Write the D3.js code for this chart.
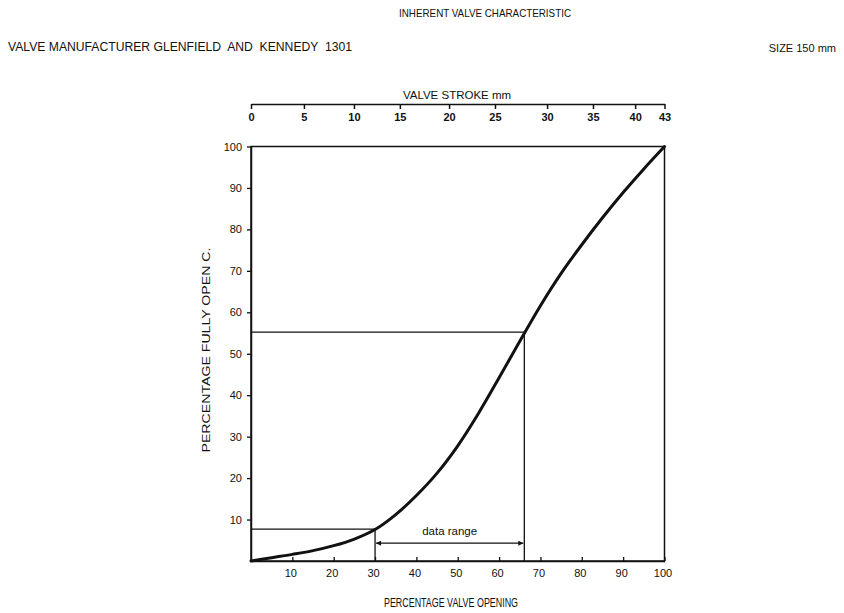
<!DOCTYPE html>
<html>
<head>
<meta charset="utf-8">
<script src="https://cdn.jsdelivr.net/npm/d3@7"></script>
<style>
  html, body { margin: 0; padding: 0; background: #fff; }
  svg { display: block; font-family: "Liberation Sans", Arial, sans-serif; }
  text { white-space: pre; }
</style>
</head>
<body>
<svg id="chart" width="844" height="613"></svg>
<script>
// ---- data ----
const valveOpening = [0, 5, 10, 15, 20, 25, 30, 35, 40, 45, 50, 55, 60, 65, 70, 75, 80, 85, 90, 95, 100];
const percentFlow  = [0, 0.8, 1.6, 2.5, 3.7, 5.3, 7.6, 11.2, 15.8, 21.2, 27.8, 35.6, 44.2, 53.0, 61.6, 69.4, 76.3, 82.8, 88.9, 94.6, 100];

const bottomTicks = [10, 20, 30, 40, 50, 60, 70, 80, 90, 100];
const leftTicks   = [10, 20, 30, 40, 50, 60, 70, 80, 90, 100];

// valve stroke (mm) labels and their positions on the % opening scale
const strokeLabels    = [0, 5, 10, 15, 20, 25, 30, 35, 40, 43];
const strokePositions = [0, 12.8, 24.9, 36.0, 47.9, 59.0, 71.6, 82.7, 92.9, 100];

// data range markers
const lowOpening = 30, lowFlow = 7.7;
const highOpening = 66.1, highFlow = 55.2;
const rangeArrowFlow = 4.3;

const titleText = "INHERENT VALVE CHARACTERISTIC";
const subtitleText = "VALVE MANUFACTURER GLENFIELD  AND  KENNEDY  1301";
const sizeText = "SIZE 150 mm";
const xTitle = "PERCENTAGE VALVE OPENING";
const yTitle = "PERCENTAGE FULLY OPEN C.";
const topTitle = "VALVE STROKE mm";
const rangeText = "data range";

// ---- drawing ----
const svg = d3.select("#chart");
const x = d3.scaleLinear().domain([0, 100]).range([251, 664.5]);
const y = d3.scaleLinear().domain([0, 100]).range([561, 146.5]);

const ink = "#111";

// titles
svg.append("text").attr("x", 485).attr("y", 17).attr("text-anchor", "middle")
  .attr("font-size", 11).attr("fill", ink)
  .attr("textLength", 172).attr("lengthAdjust", "spacingAndGlyphs").text(titleText);
svg.append("text").attr("x", 8).attr("y", 51)
  .attr("font-size", 12).attr("fill", ink)
  .attr("textLength", 344).attr("lengthAdjust", "spacingAndGlyphs").text(subtitleText);
svg.append("text").attr("x", 836).attr("y", 52).attr("text-anchor", "end")
  .attr("font-size", 11).attr("fill", ink).text(sizeText);

// plot frame
svg.append("rect")
  .attr("x", x(0)).attr("y", y(100))
  .attr("width", x(100) - x(0)).attr("height", y(0) - y(100))
  .attr("fill", "none").attr("stroke", ink).attr("stroke-width", 1.5);

// bottom axis
const gB = svg.append("g").attr("transform", `translate(0,${y(0)})`)
  .call(d3.axisBottom(x).tickValues(bottomTicks).tickSizeInner(-4).tickSizeOuter(0).tickPadding(8).tickFormat(d3.format("d")));
gB.select(".domain").attr("stroke", ink).attr("stroke-width", 1.5);
gB.selectAll(".tick line").attr("stroke", ink).attr("stroke-width", 1.3);
gB.selectAll(".tick text").attr("font-size", 11).attr("fill", ink).attr("font-family", "Liberation Sans, Arial, sans-serif").attr("dx", -2);

// left axis
const gL = svg.append("g").attr("transform", `translate(${x(0)},0)`)
  .call(d3.axisLeft(y).tickValues(leftTicks).tickSizeInner(4).tickSizeOuter(0).tickPadding(5).tickFormat(d3.format("d")));
gL.select(".domain").attr("stroke", ink).attr("stroke-width", 1.5);
gL.selectAll(".tick line").attr("stroke", ink).attr("stroke-width", 1.3);
gL.selectAll(".tick text").attr("font-size", 11).attr("fill", ink).attr("font-family", "Liberation Sans, Arial, sans-serif");

// top axis (valve stroke)
const gT = svg.append("g").attr("transform", "translate(0,104)")
  .call(d3.axisBottom(x).tickValues(strokePositions).tickSizeInner(5).tickSizeOuter(0).tickPadding(4)
    .tickFormat((d, i) => strokeLabels[i]));
gT.select(".domain").attr("stroke", ink).attr("stroke-width", 1.5);
gT.selectAll(".tick line").attr("stroke", ink).attr("stroke-width", 1.5);
gT.selectAll(".tick text").attr("font-size", 11).attr("font-weight", "bold").attr("fill", ink)
  .attr("font-family", "Liberation Sans, Arial, sans-serif");
svg.append("text").attr("x", 457).attr("y", 99).attr("text-anchor", "middle")
  .attr("font-size", 11.5).attr("fill", ink).text(topTitle);

// axis titles
svg.append("text").attr("x", 451).attr("y", 607).attr("text-anchor", "middle")
  .attr("font-size", 12).attr("fill", ink)
  .attr("textLength", 134).attr("lengthAdjust", "spacingAndGlyphs").text(xTitle);
svg.append("text").attr("transform", "translate(210,350) rotate(-90)").attr("text-anchor", "middle")
  .attr("font-size", 11.5).attr("fill", ink)
  .attr("textLength", 205).attr("lengthAdjust", "spacingAndGlyphs").text(yTitle);

// reference lines
const ref = svg.append("g").attr("stroke", ink).attr("stroke-width", 1.3).attr("fill", "none");
ref.append("line").attr("x1", x(0)).attr("x2", x(lowOpening)).attr("y1", y(lowFlow)).attr("y2", y(lowFlow));
ref.append("line").attr("x1", x(lowOpening)).attr("x2", x(lowOpening)).attr("y1", y(lowFlow)).attr("y2", y(0));
ref.append("line").attr("x1", x(0)).attr("x2", x(highOpening)).attr("y1", y(highFlow)).attr("y2", y(highFlow));
ref.append("line").attr("x1", x(highOpening)).attr("x2", x(highOpening)).attr("y1", y(highFlow)).attr("y2", y(0));

// data range arrow
const defs = svg.append("defs");
defs.append("marker").attr("id", "arr").attr("viewBox", "0 0 10 10")
  .attr("refX", 10).attr("refY", 5).attr("markerWidth", 9).attr("markerHeight", 5)
  .attr("markerUnits", "userSpaceOnUse").attr("orient", "auto-start-reverse")
  .append("path").attr("d", "M0,0 L10,5 L0,10 z").attr("fill", ink);
svg.append("line")
  .attr("x1", x(lowOpening) + 1).attr("x2", x(highOpening) - 1)
  .attr("y1", y(rangeArrowFlow)).attr("y2", y(rangeArrowFlow))
  .attr("stroke", ink).attr("stroke-width", 1.3)
  .attr("marker-start", "url(#arr)").attr("marker-end", "url(#arr)");
svg.append("text").attr("x", (x(lowOpening) + x(highOpening)) / 2).attr("y", 535)
  .attr("text-anchor", "middle").attr("font-size", 11.5).attr("fill", ink).text(rangeText);

// characteristic curve
const pts = valveOpening.map((v, i) => [v, percentFlow[i]]);
svg.append("path").datum(pts)
  .attr("d", d3.line().x(d => x(d[0])).y(d => y(d[1])).curve(d3.curveCatmullRom.alpha(0.5)))
  .attr("fill", "none").attr("stroke", ink).attr("stroke-width", 3).attr("stroke-linecap", "round");
</script>
</body>
</html>
